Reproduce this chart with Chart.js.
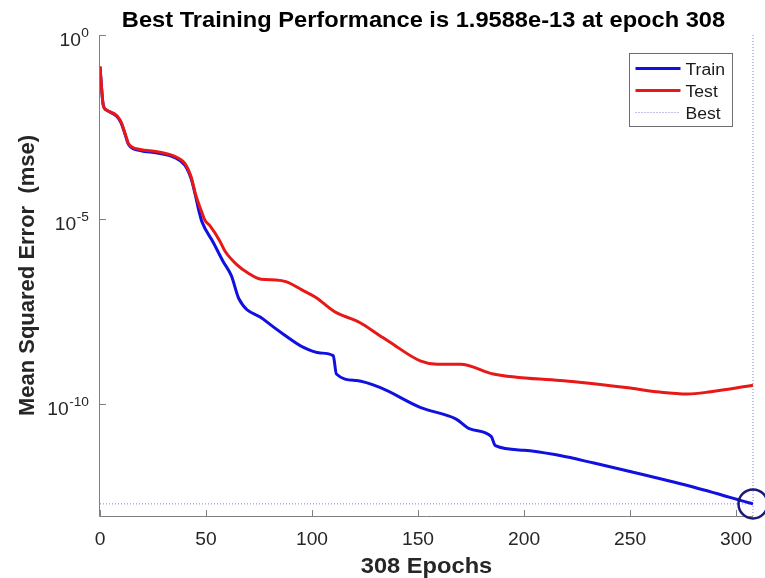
<!DOCTYPE html>
<html lang="en">
<head>
<meta charset="UTF-8">
<title>Best Training Performance</title>
<script src="https://cdn.jsdelivr.net/npm/chart.js"></script>
<style>
  html, body { margin: 0; padding: 0; background: #fff; }
  #perf { display: block; }
</style>
</head>
<body>
<canvas id="perf" width="765" height="578"></canvas>
<script>
// training record (mean squared error per epoch)
const trainEpochs = [0, 1.5, 3, 8, 10, 12, 13.5, 19, 27, 35,
  40, 43, 45, 47, 48, 53.5, 58, 62, 65.5, 77,
  86.5, 96, 104, 110, 111.5, 121, 132, 151, 168, 174.5,
  184.5, 186.5, 200, 217, 233, 248, 278, 308];
const trainMse = [1.4e-1, 1.29e-2, 9.3e-3, 6.2e-3, 4.1e-3, 1.9e-3, 1.07e-3, 7.4e-4, 6.3e-4, 4.8e-4,
  2.95e-4, 1.26e-4, 4.5e-5, 1.41e-5, 8.9e-6, 2.34e-6, 7.4e-7, 2.95e-7, 7.1e-8, 2.0e-8,
  7.8e-9, 3.4e-9, 2.4e-9, 2.04e-9, 6.5e-10, 4.3e-10, 2.8e-10, 8.1e-11, 3.9e-11, 2.1e-11,
  1.32e-11, 7.4e-12, 5.6e-12, 4.0e-12, 2.5e-12, 1.58e-12, 6.0e-13, 1.9588e-13];

const testEpochs = [0, 1.5, 3, 8, 10, 12, 13.5, 19, 27, 35,
  40, 43, 45, 47, 48, 49.5, 52, 56.5, 59, 64.5,
  70, 76, 83, 88, 95, 102, 110.5, 122.5, 132, 136.8,
  151, 159, 170, 185.5, 217, 226, 248, 264, 277, 288,
  308];
const testMse = [1.4e-1, 1.29e-2, 9.3e-3, 6.5e-3, 4.3e-3, 2.0e-3, 1.12e-3, 7.9e-4, 6.9e-4, 5.2e-4,
  3.3e-4, 1.41e-4, 5.0e-5, 2.24e-5, 1.58e-5, 9.5e-6, 6.6e-6, 2.63e-6, 1.38e-6, 6.0e-7,
  3.5e-7, 2.4e-7, 2.3e-7, 2.04e-7, 1.26e-7, 7.6e-8, 3.2e-8, 1.62e-8, 7.1e-9, 4.7e-9,
  1.48e-9, 1.2e-9, 1.2e-9, 6.5e-10, 4.3e-10, 3.9e-10, 2.8e-10, 2.1e-10, 1.86e-10, 2.14e-10,
  3.2e-10];

const bestEpoch = 308;
const bestMse = 1.9588e-13;

const xTicks = [0, 50, 100, 150, 200, 250, 300];
const yTicks = [1e0, 1e-5, 1e-10];
const yTickExps = ['0', '-5', '-10'];
const yMin = 9.2e-14;
const yMax = 1;

const legendLabels = ['Train', 'Test', 'Best'];

const TRAIN_COLOR = '#1010e0';
const TEST_COLOR = '#e81818';
const BEST_COLOR = 'rgba(90, 90, 200, 0.75)';
const CIRCLE_COLOR = '#1a1a7a';
const AXIS_COLOR = '#808080';
const TEXT_COLOR = '#262626';
const FONT = '"Liberation Sans", Arial, Helvetica, sans-serif';
const STRETCH = 1.1;

const toPoints = (xs, ys) => xs.map((x, i) => ({ x: x, y: ys[i] }));

// text with a slight horizontal stretch, like the exported figure
function drawText(ctx, text, x, y, font, align, color) {
  ctx.save();
  ctx.font = font;
  ctx.fillStyle = color;
  ctx.textAlign = align;
  ctx.textBaseline = 'alphabetic';
  ctx.translate(x, y);
  ctx.scale(STRETCH, 1);
  ctx.fillText(text, 0, 0);
  ctx.restore();
}

function textWidth(ctx, text, font) {
  ctx.save();
  ctx.font = font;
  const w = ctx.measureText(text).width * STRETCH;
  ctx.restore();
  return w;
}

const figureDecor = {
  id: 'figureDecor',
  beforeDatasetsDraw(chart) {
    const { ctx, chartArea: a, scales: { x, y } } = chart;
    ctx.save();
    ctx.strokeStyle = AXIS_COLOR;
    ctx.lineWidth = 1;
    ctx.beginPath();
    ctx.moveTo(a.left - 0.5, a.top);
    ctx.lineTo(a.left - 0.5, a.bottom + 0.5);
    ctx.lineTo(a.right, a.bottom + 0.5);
    // inward ticks
    xTicks.forEach(v => {
      const px = Math.round(x.getPixelForValue(v)) + 0.5;
      ctx.moveTo(px, a.bottom);
      ctx.lineTo(px, a.bottom - 6);
    });
    yTicks.forEach(v => {
      const py = Math.round(y.getPixelForValue(v)) + 0.5;
      ctx.moveTo(a.left, py);
      ctx.lineTo(a.left + 6, py);
    });
    ctx.stroke();
    ctx.restore();
  },
  afterDraw(chart) {
    const { ctx, chartArea: a, scales: { x, y } } = chart;
    const tickFont = '17.5px ' + FONT;
    const expFont = '12.5px ' + FONT;
    const boldFont = 'bold 21.5px ' + FONT;

    // x tick labels
    xTicks.forEach(v => {
      drawText(ctx, String(v), x.getPixelForValue(v), a.bottom + 29, tickFont, 'center', TEXT_COLOR);
    });

    // y tick labels as powers of ten
    yTicks.forEach((v, i) => {
      const py = y.getPixelForValue(v);
      const right = a.left - 11;
      const ew = textWidth(ctx, yTickExps[i], expFont);
      drawText(ctx, yTickExps[i], right - ew, py + 2, expFont, 'left', TEXT_COLOR);
      drawText(ctx, '10', right - ew - 0.5, py + 11, tickFont, 'right', TEXT_COLOR);
    });

    // title and axis titles
    const cx = (a.left + a.right) / 2;
    drawText(ctx, 'Best Training Performance is 1.9588e-13 at epoch 308', cx - 3, 27, boldFont, 'center', '#000');
    drawText(ctx, '308 Epochs', cx, a.bottom + 57, boldFont, 'center', TEXT_COLOR);

    ctx.save();
    ctx.translate(34, (a.top + a.bottom) / 2);
    ctx.rotate(-Math.PI / 2);
    ctx.font = 'bold 22px ' + FONT;
    ctx.fillStyle = TEXT_COLOR;
    ctx.textAlign = 'center';
    ctx.textBaseline = 'alphabetic';
    ctx.fillText('Mean Squared Error  (mse)', 0, 0);
    ctx.restore();

    // legend
    const bx = a.right - 123.5, by = a.top + 18.5, bw = 103, bh = 73;
    ctx.save();
    ctx.fillStyle = '#fff';
    ctx.fillRect(bx, by, bw, bh);
    ctx.strokeStyle = '#6e6e6e';
    ctx.lineWidth = 1;
    ctx.strokeRect(bx, by, bw, bh);
    const rows = [15, 37, 59];
    const styles = [
      { color: TRAIN_COLOR, width: 3, dash: [] },
      { color: TEST_COLOR, width: 3, dash: [] },
      { color: BEST_COLOR, width: 1, dash: [1, 2] }
    ];
    legendLabels.forEach((label, i) => {
      const ly = by + rows[i];
      ctx.beginPath();
      ctx.strokeStyle = styles[i].color;
      ctx.lineWidth = styles[i].width;
      ctx.setLineDash(styles[i].dash);
      ctx.moveTo(bx + 6, ly);
      ctx.lineTo(bx + 51, ly);
      ctx.stroke();
      drawText(ctx, label, bx + 56, ly + 6, '16px ' + FONT, 'left', '#1a1a1a');
    });
    ctx.restore();
  }
};

new Chart(document.getElementById('perf'), {
  type: 'line',
  data: {
    datasets: [
      {
        label: 'Best',
        data: [{ x: bestEpoch, y: bestMse }],
        showLine: false,
        pointStyle: 'circle',
        pointRadius: 14.5,
        pointBorderWidth: 2.5,
        pointBorderColor: CIRCLE_COLOR,
        pointBackgroundColor: 'rgba(0,0,0,0)',
        clip: false,
        order: 0
      },
      {
        label: 'Test',
        data: toPoints(testEpochs, testMse),
        borderColor: TEST_COLOR,
        borderWidth: 3,
        pointRadius: 0,
        cubicInterpolationMode: 'monotone',
        order: 1
      },
      {
        label: 'Train',
        data: toPoints(trainEpochs, trainMse),
        borderColor: TRAIN_COLOR,
        borderWidth: 3,
        pointRadius: 0,
        cubicInterpolationMode: 'monotone',
        order: 2
      },
      {
        label: 'Best level',
        data: [{ x: 0, y: bestMse }, { x: bestEpoch, y: bestMse }],
        borderColor: BEST_COLOR,
        borderWidth: 1,
        borderDash: [1, 2],
        pointRadius: 0,
        order: 3
      },
      {
        label: 'Best epoch',
        data: [{ x: bestEpoch, y: yMin }, { x: bestEpoch, y: yMax }],
        borderColor: BEST_COLOR,
        borderWidth: 1,
        borderDash: [1, 2],
        pointRadius: 0,
        clip: false,
        order: 3
      }
    ]
  },
  options: {
    responsive: false,
    animation: false,
    layout: { autoPadding: false, padding: { left: 100, top: 35, right: 12, bottom: 62 } },
    plugins: {
      legend: { display: false },
      title: { display: false },
      tooltip: { enabled: false }
    },
    scales: {
      x: { type: 'linear', min: 0, max: bestEpoch, display: false },
      y: { type: 'logarithmic', min: yMin, max: yMax, display: false }
    }
  },
  plugins: [figureDecor]
});
</script>
</body>
</html>
